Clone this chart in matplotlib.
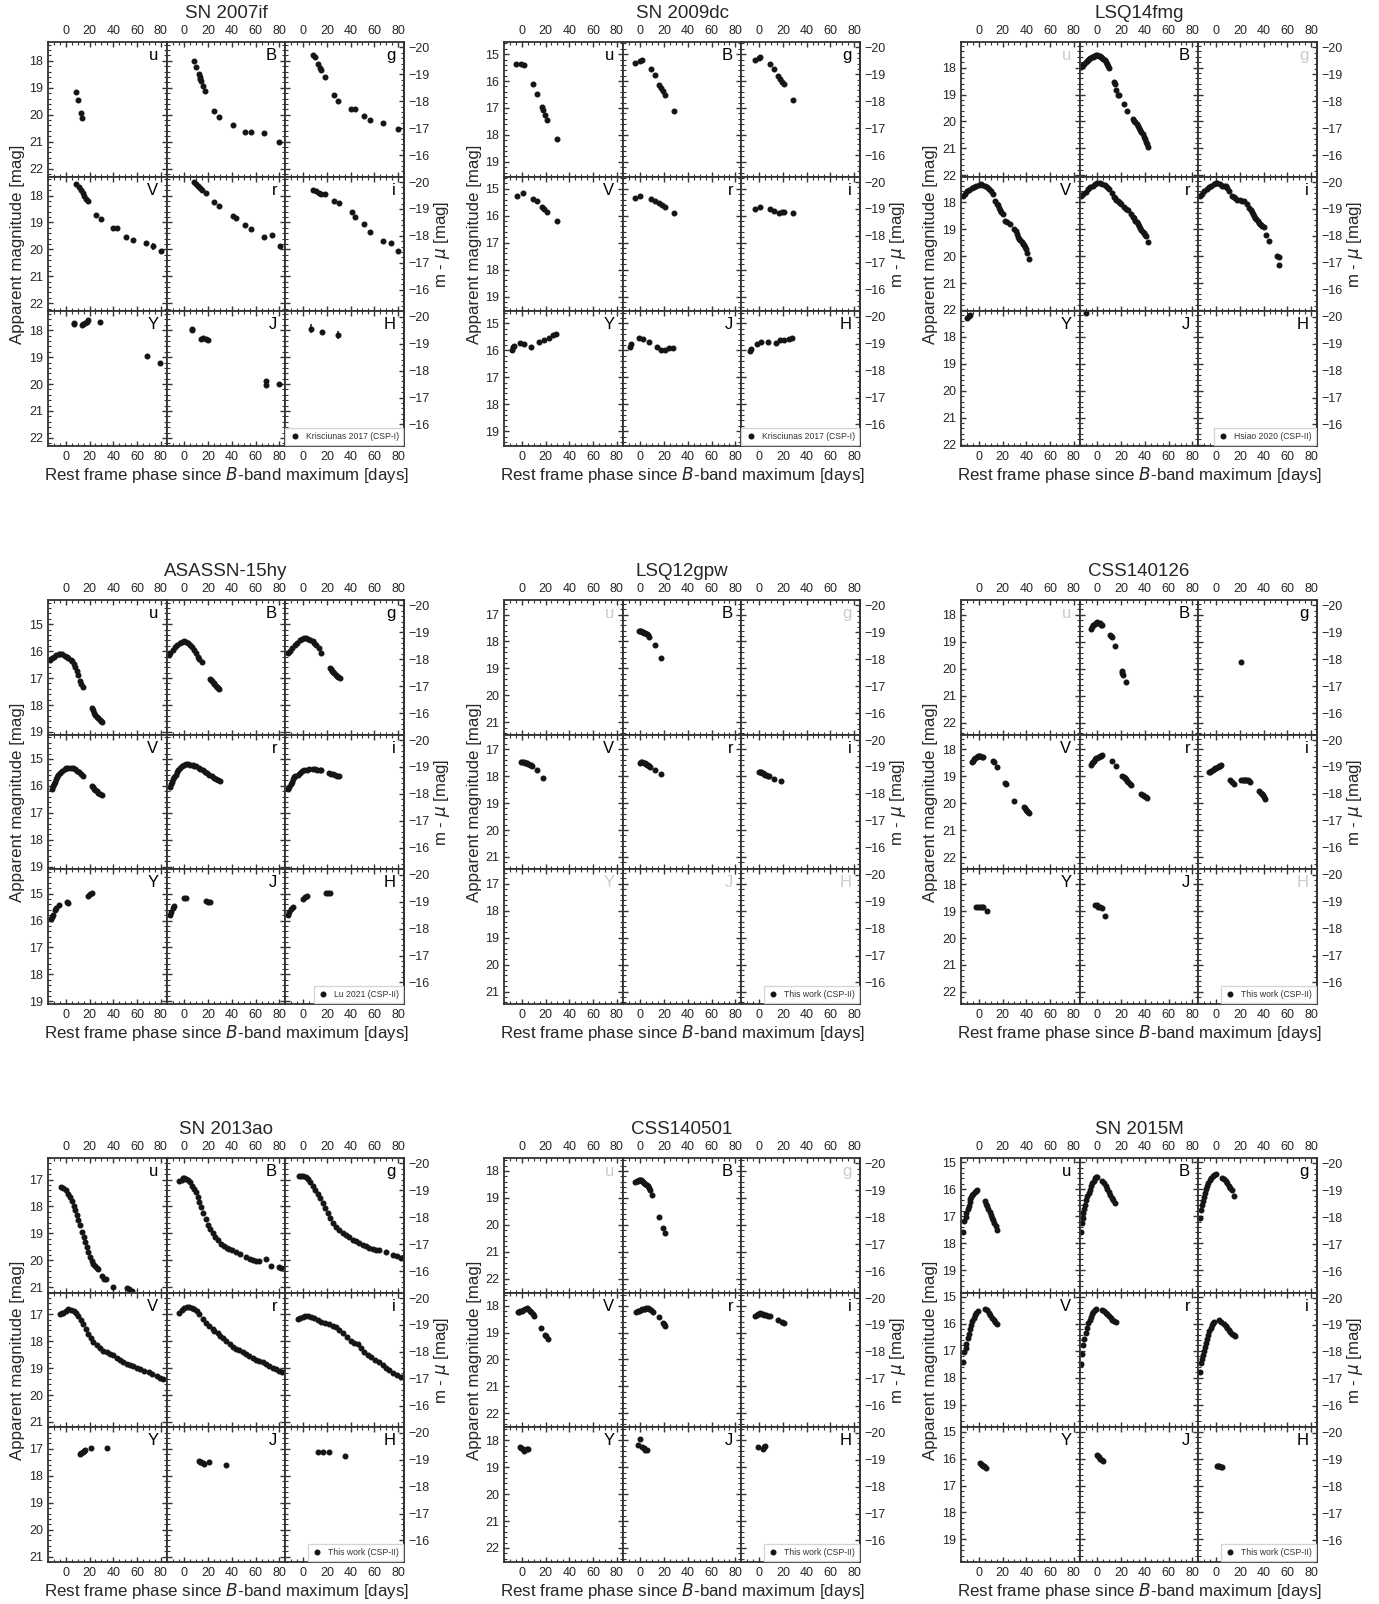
"""
Multi-band light curves of nine SNe Ia, each shown as a 3x3 block of
filter panels with apparent magnitude on the left and m - mu on the right.
"""

import matplotlib
matplotlib.use("Agg")
import matplotlib.pyplot as plt
from matplotlib.ticker import MultipleLocator, AutoMinorLocator

# ─── Style ───────────────────────────────────────────────────────
plt.rcParams["font.family"] = ["Liberation Sans", "DejaVu Sans"]
plt.rcParams["mathtext.fontset"] = "dejavusans"
TEXT_COLOR = "#262626"
FRAME_COLOR = "#333333"
DOT_COLOR = "#151515"
MISSING_COLOR = "#cccccc"

# ─── Data ────────────────────────────────────────────────────────
BANDS = ["u", "B", "g", "V", "r", "i", "Y", "J", "H"]

SN_NAMES = ["SN 2007if", "SN 2009dc", "LSQ14fmg",
            "ASASSN-15hy", "LSQ12gpw", "CSS140126",
            "SN 2013ao", "CSS140501", "SN 2015M"]

# distance moduli (offset between the two y scales)
DIST_MOD = [37.50, 34.75, 37.25,
            34.30, 36.66, 37.65,
            36.40, 37.72, 35.04]

SOURCES = ["Krisciunas 2017 (CSP-I)", "Krisciunas 2017 (CSP-I)", "Hsiao 2020 (CSP-II)",
           "Lu 2021 (CSP-II)", "This work (CSP-II)", "This work (CSP-II)",
           "This work (CSP-II)", "This work (CSP-II)", "This work (CSP-II)"]

# each entry: band -> (phase [days], apparent magnitude)
SN2007IF = {
    "u": ([8.7, 10.1, 12.9, 13.8], [19.17, 19.45, 19.93, 20.12]),
    "B": ([8.1, 10.1, 12.1, 12.9, 13.5, 14.2, 16.0, 17.5, 25.3, 29.5, 40.7, 50.8, 56.1, 67.4, 80.0],
          [18.01, 18.24, 18.50, 18.60, 18.68, 18.75, 18.95, 19.12, 19.87, 20.08, 20.40, 20.66, 20.65, 20.67, 21.03]),
    "g": ([8.4, 10.1, 12.9, 14.0, 15.2, 18.8, 25.8, 29.8, 40.4, 44.0, 51.0, 56.3, 67.4, 80.3],
          [17.77, 17.87, 18.13, 18.25, 18.34, 18.60, 19.27, 19.48, 19.80, 19.80, 20.06, 20.20, 20.30, 20.52]),
    "V": ([8.7, 10.9, 12.9, 14.3, 15.7, 17.1, 18.5, 25.8, 29.5, 40.1, 43.5, 50.8, 56.4, 67.4, 73.8, 80.6],
          [17.56, 17.67, 17.80, 17.90, 18.00, 18.12, 18.21, 18.71, 18.88, 19.22, 19.22, 19.55, 19.65, 19.78, 19.88, 20.05]),
    "r": ([8.1, 9.8, 11.8, 13.5, 14.9, 18.2, 25.3, 29.5, 40.7, 43.5, 50.8, 56.1, 67.4, 73.8, 80.3],
          [17.50, 17.56, 17.65, 17.73, 17.80, 17.90, 18.24, 18.40, 18.75, 18.85, 19.11, 19.25, 19.55, 19.48, 19.86]),
    "i": ([8.4, 10.9, 13.2, 15.2, 18.8, 26.1, 30.0, 41.0, 43.8, 51.0, 56.3, 67.4, 74.1, 80.3],
          [17.80, 17.85, 17.90, 17.94, 17.96, 18.19, 18.28, 18.62, 18.78, 19.05, 19.34, 19.69, 19.75, 20.05]),
    "Y": ([6.5, 7.0, 13.5, 14.9, 16.3, 17.7, 19.1, 28.4, 68.8, 79.4],
          [17.78, 17.75, 17.81, 17.78, 17.75, 17.68, 17.62, 17.68, 18.95, 19.23]),
    "J": ([6.2, 6.4, 14.0, 16.0, 18.2, 19.7, 68.8, 69.0, 79.4],
          [17.94, 18.00, 18.32, 18.28, 18.32, 18.38, 19.90, 20.03, 20.00]),
    "H": ([6.7, 15.7, 29.2], [17.94, 18.06, 18.19]),
}
ERR_2007IF = {
    "V": [0.02] * 14 + [0.13, 0.03],
    "Y": [0.04] * 8 + [0.06, 0.04],
    "J": [0.04] * 6 + [0.09, 0.09, 0.07],
    "H": [0.16, 0.05, 0.15],
}

SN2009DC = {
    "u": ([-4.8, -0.6, 1.7, 9.5, 12.6, 16.8, 18.0, 19.6, 21.6, 29.5],
          [15.36, 15.36, 15.40, 16.12, 16.47, 16.98, 17.07, 17.27, 17.45, 18.16]),
    "B": ([-4.5, -0.6, 1.4, 9.0, 12.1, 15.7, 17.4, 18.8, 20.8, 28.6],
          [15.32, 15.25, 15.23, 15.57, 15.79, 16.15, 16.25, 16.38, 16.51, 17.13]),
    "g": ([-3.9, 0.0, 1.1, 9.5, 12.9, 16.0, 17.4, 19.4, 21.3, 28.6],
          [15.23, 15.14, 15.10, 15.38, 15.55, 15.83, 15.92, 16.02, 16.12, 16.69]),
    "V": ([-4.2, 0.8, 9.5, 12.9, 16.8, 18.8, 21.0, 29.5],
          [15.25, 15.17, 15.38, 15.47, 15.67, 15.76, 15.85, 16.20]),
    "r": ([-4.5, 0.0, 9.0, 12.1, 15.7, 18.2, 21.0, 28.6],
          [15.34, 15.25, 15.38, 15.44, 15.53, 15.60, 15.67, 15.89]),
    "i": ([-3.9, 1.1, 9.5, 12.9, 16.6, 19.4, 21.3, 28.6],
          [15.76, 15.67, 15.76, 15.82, 15.89, 15.85, 15.85, 15.91]),
    "Y": ([-8.4, -7.6, -6.5, -1.1, 2.2, 7.9, 14.9, 18.5, 22.5, 26.1, 28.9],
          [15.98, 15.88, 15.82, 15.73, 15.76, 15.86, 15.69, 15.63, 15.53, 15.44, 15.40]),
    "J": ([-8.4, -7.6, -1.4, 2.2, 7.3, 14.0, 17.4, 21.0, 24.4, 27.5],
          [15.88, 15.76, 15.53, 15.57, 15.69, 15.88, 15.98, 15.98, 15.92, 15.92]),
    "H": ([-7.9, -6.5, -1.7, 1.7, 7.3, 14.0, 18.0, 21.3, 25.0, 27.8],
          [16.01, 15.95, 15.78, 15.69, 15.69, 15.73, 15.63, 15.63, 15.57, 15.53]),
}

LSQ14FMG = {
    "B": ([-14, -13, -12, -11, -10, -9, -8, -7, -6, -5, -4, -3, -2, -1, 0, 1, 2, 3, 4, 5, 6, 7, 8, 9, 10,
           14, 15, 16, 17, 18, 22, 24.5, 30, 31, 32, 33, 34, 35, 36, 37, 38, 39, 40, 41, 42, 43],
          [17.98, 17.95, 17.90, 17.85, 17.80, 17.76, 17.72, 17.68, 17.65, 17.62, 17.60, 17.58, 17.56, 17.55,
           17.55, 17.56, 17.58, 17.60, 17.63, 17.67, 17.72, 17.78, 17.85, 17.93, 18.00,
           18.52, 18.62, 18.85, 19.00, 19.02, 19.35, 19.60, 19.92, 19.97, 20.02, 20.10, 20.18, 20.25,
           20.32, 20.40, 20.48, 20.57, 20.65, 20.75, 20.85, 20.95]),
    "V": ([-13.5, -12, -10, -8, -6, -4, -2, 0, 1.5, 3, 5, 7, 9, 10.5, 12, 14, 15, 16, 17, 18, 19, 20,
           22, 24, 26, 30, 31, 32, 33, 34, 35, 36, 37, 38, 39, 40, 41, 42],
          [17.75, 17.68, 17.60, 17.53, 17.47, 17.42, 17.38, 17.35, 17.34, 17.35, 17.38, 17.44, 17.52,
           17.60, 17.68, 17.95, 18.05, 18.12, 18.20, 18.27, 18.35, 18.42, 18.70, 18.75, 18.80, 19.00,
           19.08, 19.18, 19.28, 19.35, 19.42, 19.48, 19.55, 19.60, 19.66, 19.75, 19.88, 20.12]),
    "r": ([-14, -12, -10, -8, -6, -4, -2, 0, 2, 4, 6, 8, 10, 12, 14, 15, 16, 17, 18, 19, 20, 22, 24,
           26, 28, 30, 31, 32, 33, 34, 35, 36, 37, 38, 39, 40, 41, 42.2],
          [17.78, 17.70, 17.61, 17.52, 17.44, 17.38, 17.33, 17.30, 17.30, 17.32, 17.36, 17.43, 17.52,
           17.65, 17.80, 17.85, 17.90, 17.95, 17.99, 18.04, 18.08, 18.18, 18.26, 18.30, 18.42, 18.53,
           18.60, 18.68, 18.75, 18.82, 18.90, 18.97, 19.04, 19.10, 19.15, 19.21, 19.27, 19.46]),
    "i": ([-13.5, -12, -10, -8, -6, -4, -2, 0, 1, 3, 5, 6.5, 8, 9.3, 11, 13.5, 15, 16, 17.7, 20, 22,
           23.3, 26, 28, 29, 30, 31, 32, 33, 34, 35, 36, 37, 38, 39, 40, 42.4, 44.3, 51.3, 52.8, 53.3],
          [17.75, 17.68, 17.60, 17.52, 17.45, 17.39, 17.33, 17.29, 17.28, 17.33, 17.38, 17.38, 17.40,
           17.46, 17.60, 17.75, 17.82, 17.86, 17.90, 17.92, 17.96, 17.96, 18.06, 18.20, 18.28, 18.36,
           18.44, 18.50, 18.58, 18.64, 18.70, 18.76, 18.82, 18.86, 18.90, 18.92, 19.21, 19.43, 19.99,
           20.05, 20.34]),
    "Y": ([-10.0, -8.5, -7.0], [17.30, 17.24, 17.18]),
    "J": ([-9.3], [17.12]),
    "H": ([], []),   # observed, but nothing inside the plotted range
}

ASASSN15HY = {
    "u": ([-13.2, -12, -10, -8, -6, -4.8, -3, -1, 0.8, 2, 4, 5.1, 6.5, 7.9, 9.3, 10.7, 12.0, 12.6, 14.9,
           21.9, 22.8, 24.1, 25, 26.1, 27, 28.4, 29.5, 30.3],
          [16.33, 16.27, 16.20, 16.15, 16.11, 16.10, 16.12, 16.17, 16.20, 16.25, 16.31, 16.37, 16.47,
           16.59, 16.74, 16.90, 17.10, 17.22, 17.32, 18.11, 18.20, 18.30, 18.36, 18.43, 18.49, 18.56,
           18.58, 18.62]),
    "B": ([-13.2, -12, -10, -8, -6, -4, -2, -0.6, 1, 3, 5, 6.5, 8, 9.5, 11.2, 12.5, 14.6,
           21.6, 22.5, 23.5, 24.5, 25.3, 26.5, 27.5, 28.5, 29.5],
          [16.14, 16.05, 15.95, 15.85, 15.76, 15.70, 15.65, 15.63, 15.65, 15.70, 15.78, 15.86, 15.95,
           16.06, 16.20, 16.30, 16.40, 17.03, 17.08, 17.12, 17.17, 17.22, 17.28, 17.33, 17.37, 17.41]),
    "g": ([-12.6, -11, -9, -7, -5, -3, -1, 0.5, 2, 4, 6, 8, 9.5, 11, 13, 15.2,
           22.7, 23.7, 24.7, 25.5, 26.4, 27.5, 28.5, 29.5, 31.2],
          [16.08, 15.98, 15.87, 15.77, 15.68, 15.60, 15.55, 15.52, 15.51, 15.53, 15.58, 15.64, 15.70,
           15.78, 15.90, 16.08, 16.63, 16.68, 16.72, 16.77, 16.82, 16.87, 16.91, 16.95, 17.00]),
    "V": ([-11.8, -11, -10, -9, -8, -7, -6.2, -5, -3, -1, 0.5, 2.2, 4, 6, 7.9, 9.5, 11, 12.5, 14.9,
           21.9, 23, 24, 25, 26.1, 27, 28.5, 30.3],
          [16.12, 16.02, 15.93, 15.84, 15.76, 15.68, 15.61, 15.53, 15.44, 15.38, 15.35, 15.33, 15.33,
           15.35, 15.39, 15.44, 15.50, 15.56, 15.65, 16.02, 16.06, 16.10, 16.15, 16.21, 16.25, 16.29,
           16.33]),
    "r": ([-12.6, -11.5, -10.5, -9.5, -8.5, -7.5, -6.5, -5.6, -4, -2, 0, 1.4, 3, 5, 7, 8.4, 10, 12,
           13.5, 15.4, 17, 19, 21, 23, 25, 26.5, 28, 30],
          [16.05, 15.95, 15.85, 15.76, 15.67, 15.58, 15.50, 15.42, 15.33, 15.26, 15.22, 15.20, 15.20,
           15.21, 15.23, 15.25, 15.28, 15.33, 15.37, 15.42, 15.47, 15.53, 15.59, 15.65, 15.70, 15.75,
           15.79, 15.83]),
    "i": ([-12.4, -11.5, -10.5, -9.5, -8.5, -7.5, -6.5, -4.5, -3, -1, 1.1, 3, 5, 8.1, 10, 12, 14, 15.2,
           21.5, 23.6, 25, 27, 28.5, 30.6],
          [16.12, 16.03, 15.93, 15.84, 15.76, 15.69, 15.63, 15.58, 15.52, 15.46, 15.42, 15.40, 15.39,
           15.39, 15.39, 15.40, 15.41, 15.42, 15.52, 15.55, 15.57, 15.60, 15.62, 15.65]),
    "Y": ([-12.4, -11.5, -10.5, -9, -8, -5.6, 0.8, 2.2, 19.1, 20.5, 21.9],
          [15.96, 15.88, 15.78, 15.60, 15.52, 15.42, 15.33, 15.35, 15.08, 15.03, 14.97]),
    "J": ([-12.6, -11.5, -10, -8.4, 0, 1.4, 18.2, 20, 21.6],
          [15.79, 15.68, 15.55, 15.45, 15.16, 15.16, 15.29, 15.30, 15.31]),
    "H": ([-12.4, -11.5, -10, -8.7, -0.3, 1.5, 3.1, 19.4, 21, 22.7],
          [15.79, 15.70, 15.58, 15.48, 15.19, 15.14, 15.10, 14.97, 14.97, 14.97]),
}

LSQ12GPW = {
    "B": ([-1.4, -0.5, 0.5, 1.4, 2.3, 3.2, 4.2, 5.1, 6.0, 7.0, 12.1, 17.7],
          [17.60, 17.60, 17.61, 17.63, 17.65, 17.67, 17.70, 17.73, 17.77, 17.83, 18.14, 18.61]),
    "V": ([-0.6, 0.5, 1.6, 2.8, 3.8, 4.7, 5.6, 6.6, 7.5, 8.4, 12.6, 18.2],
          [17.47, 17.47, 17.48, 17.50, 17.51, 17.53, 17.55, 17.57, 17.60, 17.63, 17.76, 18.06]),
    "r": ([-0.6, 0.5, 1.6, 2.8, 3.8, 4.7, 5.6, 6.6, 7.5, 8.4, 12.1, 17.7],
          [17.50, 17.49, 17.49, 17.50, 17.52, 17.54, 17.57, 17.60, 17.63, 17.66, 17.78, 17.93]),
    "i": ([-0.3, 0.7, 1.6, 2.5, 3.5, 4.4, 5.3, 6.2, 7.1, 8.1, 12.4, 18.5],
          [17.85, 17.85, 17.86, 17.88, 17.90, 17.92, 17.95, 17.97, 17.99, 18.01, 18.10, 18.19]),
}

CSS140126 = {
    "B": ([-5.6, -4.6, -3.6, -2.5, -1.4, -0.3, 0.8, 1.8, 2.8, 4.2, 10.4, 11.2, 12.1, 14.9, 20.5, 21.0,
           21.6, 23.9],
          [18.51, 18.44, 18.38, 18.33, 18.29, 18.28, 18.29, 18.32, 18.36, 18.38, 18.74, 18.79, 18.84,
           19.15, 20.08, 20.15, 20.25, 20.50]),
    "g": ([21.0], [19.74]),
    "V": ([-5.6, -4.7, -3.7, -2.8, -1.8, -0.9, 0, 1.2, 2.4, 3.6, 11.8, 12.6, 15.4, 22.0, 22.5, 29.5,
           37.9, 38.8, 39.7, 40.7, 41.4, 42.1],
          [18.47, 18.42, 18.35, 18.30, 18.27, 18.25, 18.25, 18.26, 18.27, 18.28, 18.43, 18.48, 18.66,
           19.25, 19.30, 19.90, 20.12, 20.18, 20.23, 20.29, 20.33, 20.37]),
    "r": ([-5.6, -4.6, -3.7, -2.8, -1.8, -0.9, 0, 1.1, 2.1, 3.1, 4.2, 12.1, 15.4, 21.0, 22.0, 23.0, 23.9,
           25, 26, 27, 28.1, 37.1, 38.2, 39.3, 40.6, 42.1],
          [18.57, 18.52, 18.46, 18.41, 18.37, 18.33, 18.30, 18.28, 18.26, 18.24, 18.22, 18.43, 18.63,
           18.98, 19.02, 19.07, 19.11, 19.17, 19.22, 19.27, 19.33, 19.64, 19.69, 19.74, 19.77, 19.80]),
    "i": ([-6.2, -5.1, -4.1, -3.0, -2.0, -0.9, 0.2, 1.2, 2.2, 3.3, 4.5, 12.1, 13.5, 15.4, 21.3, 22.5,
           23.6, 24.7, 25.3, 26.5, 27.7, 28.9, 36.5, 37.5, 38.5, 39.3, 40.4, 41.5],
          [18.85, 18.82, 18.79, 18.75, 18.72, 18.70, 18.68, 18.66, 18.63, 18.60, 18.57, 19.14, 19.20,
           19.27, 19.14, 19.12, 19.12, 19.12, 19.14, 19.14, 19.16, 19.19, 19.55, 19.60, 19.65, 19.70,
           19.76, 19.83]),
    "Y": ([-2.0, -0.8, 1.4, 2.5, 3.6, 7.0], [18.83, 18.84, 18.85, 18.85, 18.85, 18.98]),
    "J": ([-2.0, -0.5, 0.8, 2.1, 3.4, 6.5], [18.76, 18.78, 18.83, 18.86, 18.89, 19.18]),
}

SN2013AO = {
    "u": ([-3.9, -2.0, 0.5, 2.2, 3.5, 5.1, 6.5, 7.9, 9.3, 10.7, 12.1, 13.5, 15, 16.3, 17.7, 19.1, 20.5,
           21.9, 23.3, 24.7, 26.1, 27.5, 30.3, 32, 34.0, 40.1, 51.4, 53, 55.6],
          [17.27, 17.30, 17.40, 17.52, 17.65, 17.80, 17.97, 18.14, 18.31, 18.49, 18.70, 18.94, 19.13,
           19.32, 19.50, 19.70, 19.86, 20.01, 20.12, 20.20, 20.27, 20.33, 20.58, 20.68, 20.71, 21.00,
           21.03, 21.08, 21.13]),
    "B": ([-4.2, -2.5, -1, 0, 1.5, 2.8, 4.5, 6.5, 8, 9.8, 11, 12.6, 14.3, 16, 17.8, 19.7, 21.8, 23.9, 26,
           28.1, 31, 33.7, 36, 37.9, 40, 43.5, 47, 51.9, 55, 57.5, 60, 63.2, 68.8, 73, 80, 81.4],
          [17.04, 17.00, 16.96, 16.95, 16.97, 17.01, 17.10, 17.23, 17.34, 17.48, 17.63, 17.84, 18.03,
           18.24, 18.45, 18.68, 18.85, 19.00, 19.13, 19.25, 19.38, 19.48, 19.53, 19.57, 19.62, 19.70,
           19.78, 19.89, 19.94, 19.99, 20.02, 20.04, 19.95, 20.20, 20.26, 20.29]),
    "g": ([-3.9, -2, 0.3, 2, 3.9, 6, 8.1, 10.2, 12.4, 14.5, 16.6, 18.7, 20.8, 23, 25, 27.8, 30.6, 33.4,
           36.2, 39, 41.8, 44.6, 47.4, 50.2, 53, 55.8, 58.7, 61.5, 64.3, 69.9, 75.5, 79, 82.5],
          [16.87, 16.86, 16.85, 16.89, 16.97, 17.09, 17.23, 17.38, 17.54, 17.70, 17.86, 18.05, 18.24,
           18.43, 18.62, 18.75, 18.87, 18.97, 19.06, 19.15, 19.23, 19.29, 19.35, 19.42, 19.48, 19.53,
           19.57, 19.60, 19.63, 19.70, 19.80, 19.85, 19.91]),
    "V": ([-4.8, -3.4, -2, 0, 2.2, 4.3, 6.5, 8.6, 10.7, 12.8, 14.9, 17, 19.1, 21.2, 23.3, 26.1, 28.9,
           31.7, 34.5, 37.3, 40.1, 43, 45.8, 48.6, 51.4, 54.2, 57, 59.8, 62.7, 66, 69.7, 73, 76.8, 79.5,
           82.2],
          [17.00, 16.97, 16.94, 16.88, 16.81, 16.83, 16.87, 16.95, 17.06, 17.20, 17.38, 17.56, 17.74,
           17.89, 18.02, 18.15, 18.27, 18.35, 18.40, 18.46, 18.52, 18.61, 18.71, 18.78, 18.84, 18.88,
           18.93, 18.98, 19.03, 19.09, 19.16, 19.22, 19.29, 19.35, 19.40]),
    "r": ([-4.2, -2.1, 0, 2.1, 4.2, 6.3, 8.4, 10.5, 12.6, 15.4, 18.2, 21, 23.7, 25.3, 28, 30, 32.3, 35,
           38, 40.7, 43.5, 46.3, 49.1, 52, 54.7, 57.5, 60.3, 63, 66, 69, 71.5, 74.4, 77.2, 80, 82.2],
          [16.94, 16.84, 16.77, 16.75, 16.75, 16.77, 16.81, 16.89, 17.00, 17.16, 17.32, 17.45, 17.55,
           17.61, 17.71, 17.80, 17.89, 17.99, 18.10, 18.21, 18.28, 18.34, 18.40, 18.48, 18.56, 18.63,
           18.69, 18.74, 18.79, 18.85, 18.92, 18.98, 19.04, 19.10, 19.14]),
    "i": ([-4.5, -2.4, -0.3, 1.8, 3.9, 6.7, 9.5, 12.3, 15.2, 18.7, 22.2, 25, 27.8, 30.6, 33.4, 36.9,
           40.4, 43.2, 46, 48.8, 51.6, 54.4, 57.3, 60.8, 64.3, 67.1, 69.9, 72.7, 75.5, 79, 82.5],
          [17.19, 17.14, 17.09, 17.07, 17.06, 17.10, 17.15, 17.21, 17.28, 17.33, 17.38, 17.43, 17.48,
           17.58, 17.70, 17.85, 17.99, 18.07, 18.12, 18.26, 18.40, 18.50, 18.59, 18.69, 18.79, 18.89,
           18.98, 19.08, 19.17, 19.26, 19.32]),
    "Y": ([12.1, 13.2, 14.3, 15.3, 16.3, 21.0, 35.1], [17.19, 17.15, 17.10, 17.07, 17.04, 16.98, 16.95]),
    "J": ([12.1, 13.0, 14.0, 15.2, 16.3, 20.5, 35.1], [17.44, 17.47, 17.50, 17.53, 17.56, 17.50, 17.60]),
    "H": ([12.4, 16.6, 21.6, 35.6], [17.13, 17.13, 17.13, 17.25]),
}

CSS140501 = {
    "B": ([-4.2, -3.0, -2.2, -1.4, -0.5, 0.5, 1.4, 2.3, 3.2, 4.2, 5.2, 6.1, 7.0, 8.0, 9.8, 15.4, 19.1, 20.8],
          [18.41, 18.39, 18.36, 18.34, 18.34, 18.35, 18.38, 18.41, 18.44, 18.47, 18.52, 18.57, 18.63,
           18.70, 18.91, 19.71, 20.12, 20.32]),
    "V": ([-3.4, -2.3, -1.2, 0, 1.4, 2.8, 4.2, 5.6, 7.0, 8.1, 9.3, 10.7, 16.3, 19.6, 20.5, 21.9],
          [18.25, 18.23, 18.21, 18.19, 18.16, 18.12, 18.10, 18.14, 18.19, 18.25, 18.31, 18.38, 18.83,
           19.08, 19.14, 19.24]),
    "r": ([-3.4, -2.2, -1.0, 0.2, 1.4, 2.6, 3.8, 5.0, 6.2, 7.4, 8.6, 10.7, 15.4, 19.1, 20.0, 21.0],
          [18.23, 18.21, 18.19, 18.17, 18.13, 18.12, 18.11, 18.10, 18.10, 18.12, 18.16, 18.23, 18.41,
           18.63, 18.69, 18.74]),
    "i": ([-3.1, -2.0, -0.8, 0.6, 1.8, 3.0, 4.5, 6.0, 7.5, 9.5, 16.0, 19.4, 21.3],
          [18.38, 18.35, 18.31, 18.28, 18.30, 18.33, 18.36, 18.36, 18.37, 18.38, 18.54, 18.60, 18.65]),
    "Y": ([-1.4, -0.4, 0.6, 1.5, 2.2, 4.0, 5.1], [18.25, 18.27, 18.31, 18.35, 18.40, 18.31, 18.31]),
    "J": ([-2.0, -0.6, 1.4, 2.8, 4.2, 5.6], [18.19, 17.96, 18.25, 18.30, 18.35, 18.38]),
    "H": ([-1.1, 3.4, 4.4, 5.3], [18.25, 18.31, 18.26, 18.21]),
}

SN2015M = {
    "u": ([-13.2, -12.1, -11.2, -10.4, -9.4, -8.4, -7.7, -7.0, -6.3, -5.6, -4.6, -3.6, -2.5, -1.4,
           5.1, 6.0, 7.0, 8.1, 9.3, 10.2, 11.2, 12.2, 13.2, 14.2, 15.4],
          [17.58, 17.18, 17.02, 16.89, 16.74, 16.61, 16.49, 16.38, 16.30, 16.23, 16.16, 16.11, 16.07,
           16.04, 16.45, 16.54, 16.64, 16.75, 16.86, 16.95, 17.05, 17.14, 17.24, 17.35, 17.52]),
    "B": ([-14.0, -13.2, -12.6, -12.1, -11.2, -10.4, -9.4, -8.4, -7.5, -6.5, -5.4, -4.2, -3.1, -2.0,
           -1.0, 0.0, 4.2, 5.6, 7.0, 8.4, 9.8, 10.9, 12.1, 13.5, 14.9],
          [17.58, 17.24, 17.05, 16.89, 16.72, 16.57, 16.41, 16.26, 16.13, 16.01, 15.88, 15.78, 15.68,
           15.60, 15.56, 15.53, 15.69, 15.78, 15.88, 15.99, 16.11, 16.21, 16.32, 16.41, 16.51]),
    "g": ([-13.2, -12.4, -11.8, -11.2, -10.4, -9.5, -8.6, -7.6, -6.5, -5.3, -4.1, -2.8, -1.4, 0.0,
           5.1, 6.5, 7.9, 9.3, 10.7, 12.1, 13.5, 15.4],
          [17.05, 16.76, 16.60, 16.45, 16.28, 16.13, 16.00, 15.88, 15.77, 15.67, 15.58, 15.50, 15.46,
           15.44, 15.57, 15.63, 15.69, 15.78, 15.88, 15.95, 16.03, 16.26]),
    "V": ([-13.2, -12.1, -11.2, -10.4, -9.4, -8.4, -7.5, -6.5, -5.4, -4.2, -3.1, -2.0, -0.8,
           5.6, 7.0, 8.4, 9.8, 11.2, 12.4, 13.5, 15.4],
          [17.40, 17.03, 16.88, 16.74, 16.54, 16.36, 16.19, 16.04, 15.90, 15.79, 15.68, 15.58, 15.52,
           15.44, 15.50, 15.58, 15.67, 15.77, 15.85, 15.92, 16.02]),
    "r": ([-14.0, -13.2, -12.1, -11.0, -9.8, -8.7, -7.6, -6.6, -5.6, -4.6, -3.6, -2.5, -1.4,
           4.2, 5.6, 7.0, 8.4, 9.8, 11.2, 12.6, 14.0, 15.4],
          [17.49, 17.11, 16.80, 16.55, 16.32, 16.14, 15.98, 15.85, 15.73, 15.63, 15.54, 15.49, 15.45,
           15.48, 15.53, 15.58, 15.63, 15.69, 15.77, 15.86, 15.90, 15.94]),
    "i": ([-13.2, -12.4, -11.8, -11.2, -10.4, -9.5, -8.6, -7.6, -6.6, -5.6, -4.7, -3.9, -2.9, -2.0,
           2.2, 4.3, 6.5, 7.9, 9.3, 10.7, 12.1, 13.5, 14.9, 16.3],
          [17.80, 17.45, 17.30, 17.14, 17.00, 16.86, 16.70, 16.55, 16.41, 16.27, 16.15, 16.04, 15.97,
           15.92, 15.86, 15.93, 16.02, 16.08, 16.15, 16.22, 16.30, 16.36, 16.41, 16.45]),
    "Y": ([0.8, 1.8, 2.8, 3.8, 4.8, 6.2], [16.17, 16.20, 16.23, 16.26, 16.29, 16.36]),
    "J": ([0.0, 0.7, 1.4, 2.5, 3.6, 4.8], [15.88, 15.92, 15.96, 16.00, 16.04, 16.08]),
    "H": ([0.8, 1.8, 2.8, 4.0, 5.1], [16.26, 16.26, 16.27, 16.30, 16.33]),
}

LIGHT_CURVES = [SN2007IF, SN2009DC, LSQ14FMG,
                ASASSN15HY, LSQ12GPW, CSS140126,
                SN2013AO, CSS140501, SN2015M]
ERRORS = {0: ERR_2007IF}

# ─── Layout (pixels) ─────────────────────────────────────────────
FIG_W, FIG_H = 1379, 1604
BLOCK_X = [48, 504, 961]
BLOCK_Y = [42, 600, 1158]
BLOCK_W, BLOCK_H = 356, 404
ABS_TOP, ABS_BOT = -20.2, -15.2      # shared m - mu range

fig = plt.figure(figsize=(FIG_W / 100, FIG_H / 100), dpi=100)
fig.patch.set_facecolor("white")


def px_rect(x, y, w, h):
    return [x / FIG_W, 1 - (y + h) / FIG_H, w / FIG_W, h / FIG_H]


def style_ticks(axis_obj):
    axis_obj.tick_params(which="both", direction="in", color=FRAME_COLOR,
                         labelcolor=TEXT_COLOR, labelsize=9)
    axis_obj.tick_params(which="major", length=3.5, width=1.0)
    axis_obj.tick_params(which="minor", length=2.0, width=0.8)


def style_axis(ax):
    for sp in ax.spines.values():
        sp.set_color(FRAME_COLOR)
        sp.set_linewidth(1.3)
    ax.xaxis.set_major_locator(MultipleLocator(20))
    ax.xaxis.set_minor_locator(MultipleLocator(5))
    ax.yaxis.set_major_locator(MultipleLocator(1))
    ax.yaxis.set_minor_locator(AutoMinorLocator(5))
    style_ticks(ax)
    ax.tick_params(which="both", top=True, bottom=True, left=True, right=True)


for k, (name, mu, source, curves) in enumerate(zip(SN_NAMES, DIST_MOD, SOURCES, LIGHT_CURVES)):
    bx = BLOCK_X[k % 3]
    by = BLOCK_Y[k // 3]
    cw, ch = BLOCK_W / 3, BLOCK_H / 3
    errs = ERRORS.get(k, {})

    for j, band in enumerate(BANDS):
        row, col = j // 3, j % 3
        ax = fig.add_axes(px_rect(bx + col * cw, by + row * ch, cw, ch))
        style_axis(ax)
        ax.set_xlim(-15, 85)
        ax.set_ylim(mu + ABS_BOT, mu + ABS_TOP)

        ax.tick_params(labeltop=(row == 0), labelbottom=(row == 2),
                       labelleft=(col == 0), labelright=False)

        if band in curves:
            phase, mag = curves[band]
            if band in errs:
                ax.errorbar(phase, mag, yerr=errs[band], fmt="none", ecolor=DOT_COLOR,
                            elinewidth=1.1, capsize=0)
            ax.plot(phase, mag, "o", ms=3.3, color=DOT_COLOR, mec=DOT_COLOR, label=source)
            label_color = "black"
        else:
            label_color = MISSING_COLOR

        ax.text(0.93, 0.955, band, transform=ax.transAxes, ha="right", va="top",
                fontsize=12, color=label_color)

        if col == 2:
            sec = ax.secondary_yaxis("right", functions=(lambda m, mu=mu: m - mu,
                                                         lambda a, mu=mu: a + mu))
            sec.yaxis.set_major_locator(MultipleLocator(1))
            sec.yaxis.set_minor_locator(AutoMinorLocator(5))
            sec.spines["right"].set_color(FRAME_COLOR)
            sec.spines["right"].set_linewidth(1.3)
            style_ticks(sec)
            ax.tick_params(which="both", right=False)

        if band == "H":
            if not ax.get_legend_handles_labels()[0]:
                ax.plot([], [], "o", ms=3.3, color=DOT_COLOR, label=source)
            leg = ax.legend(loc="lower right", fontsize=6.2, numpoints=1, handlelength=1.3,
                            handletextpad=0.6, borderpad=0.45, framealpha=1.0,
                            borderaxespad=0.15, fancybox=False)
            leg.get_frame().set_edgecolor("#d4d4d4")
            leg.get_frame().set_linewidth(0.9)
            for t in leg.get_texts():
                t.set_color("#333333")

    # block-level labels
    cx = (bx + BLOCK_W / 2) / FIG_W
    cy = 1 - (by + BLOCK_H / 2) / FIG_H
    fig.text(cx, 1 - (by - 28) / FIG_H, name, ha="center", va="center",
             fontsize=13.5, color=TEXT_COLOR)
    fig.text(cx, 1 - (by + BLOCK_H + 29) / FIG_H,
             "Rest frame phase since $B$-band maximum [days]",
             ha="center", va="center", fontsize=12.2, color=TEXT_COLOR)
    fig.text((bx - 30) / FIG_W, cy, "Apparent magnitude [mag]", rotation=90,
             ha="center", va="center", fontsize=12.2, color=TEXT_COLOR)
    fig.text((bx + BLOCK_W + 38) / FIG_W, cy, "m - $\\mu$ [mag]", rotation=90,
             ha="center", va="center", fontsize=12.2, color=TEXT_COLOR)

fig.savefig("out.png", dpi=100, facecolor="white")
